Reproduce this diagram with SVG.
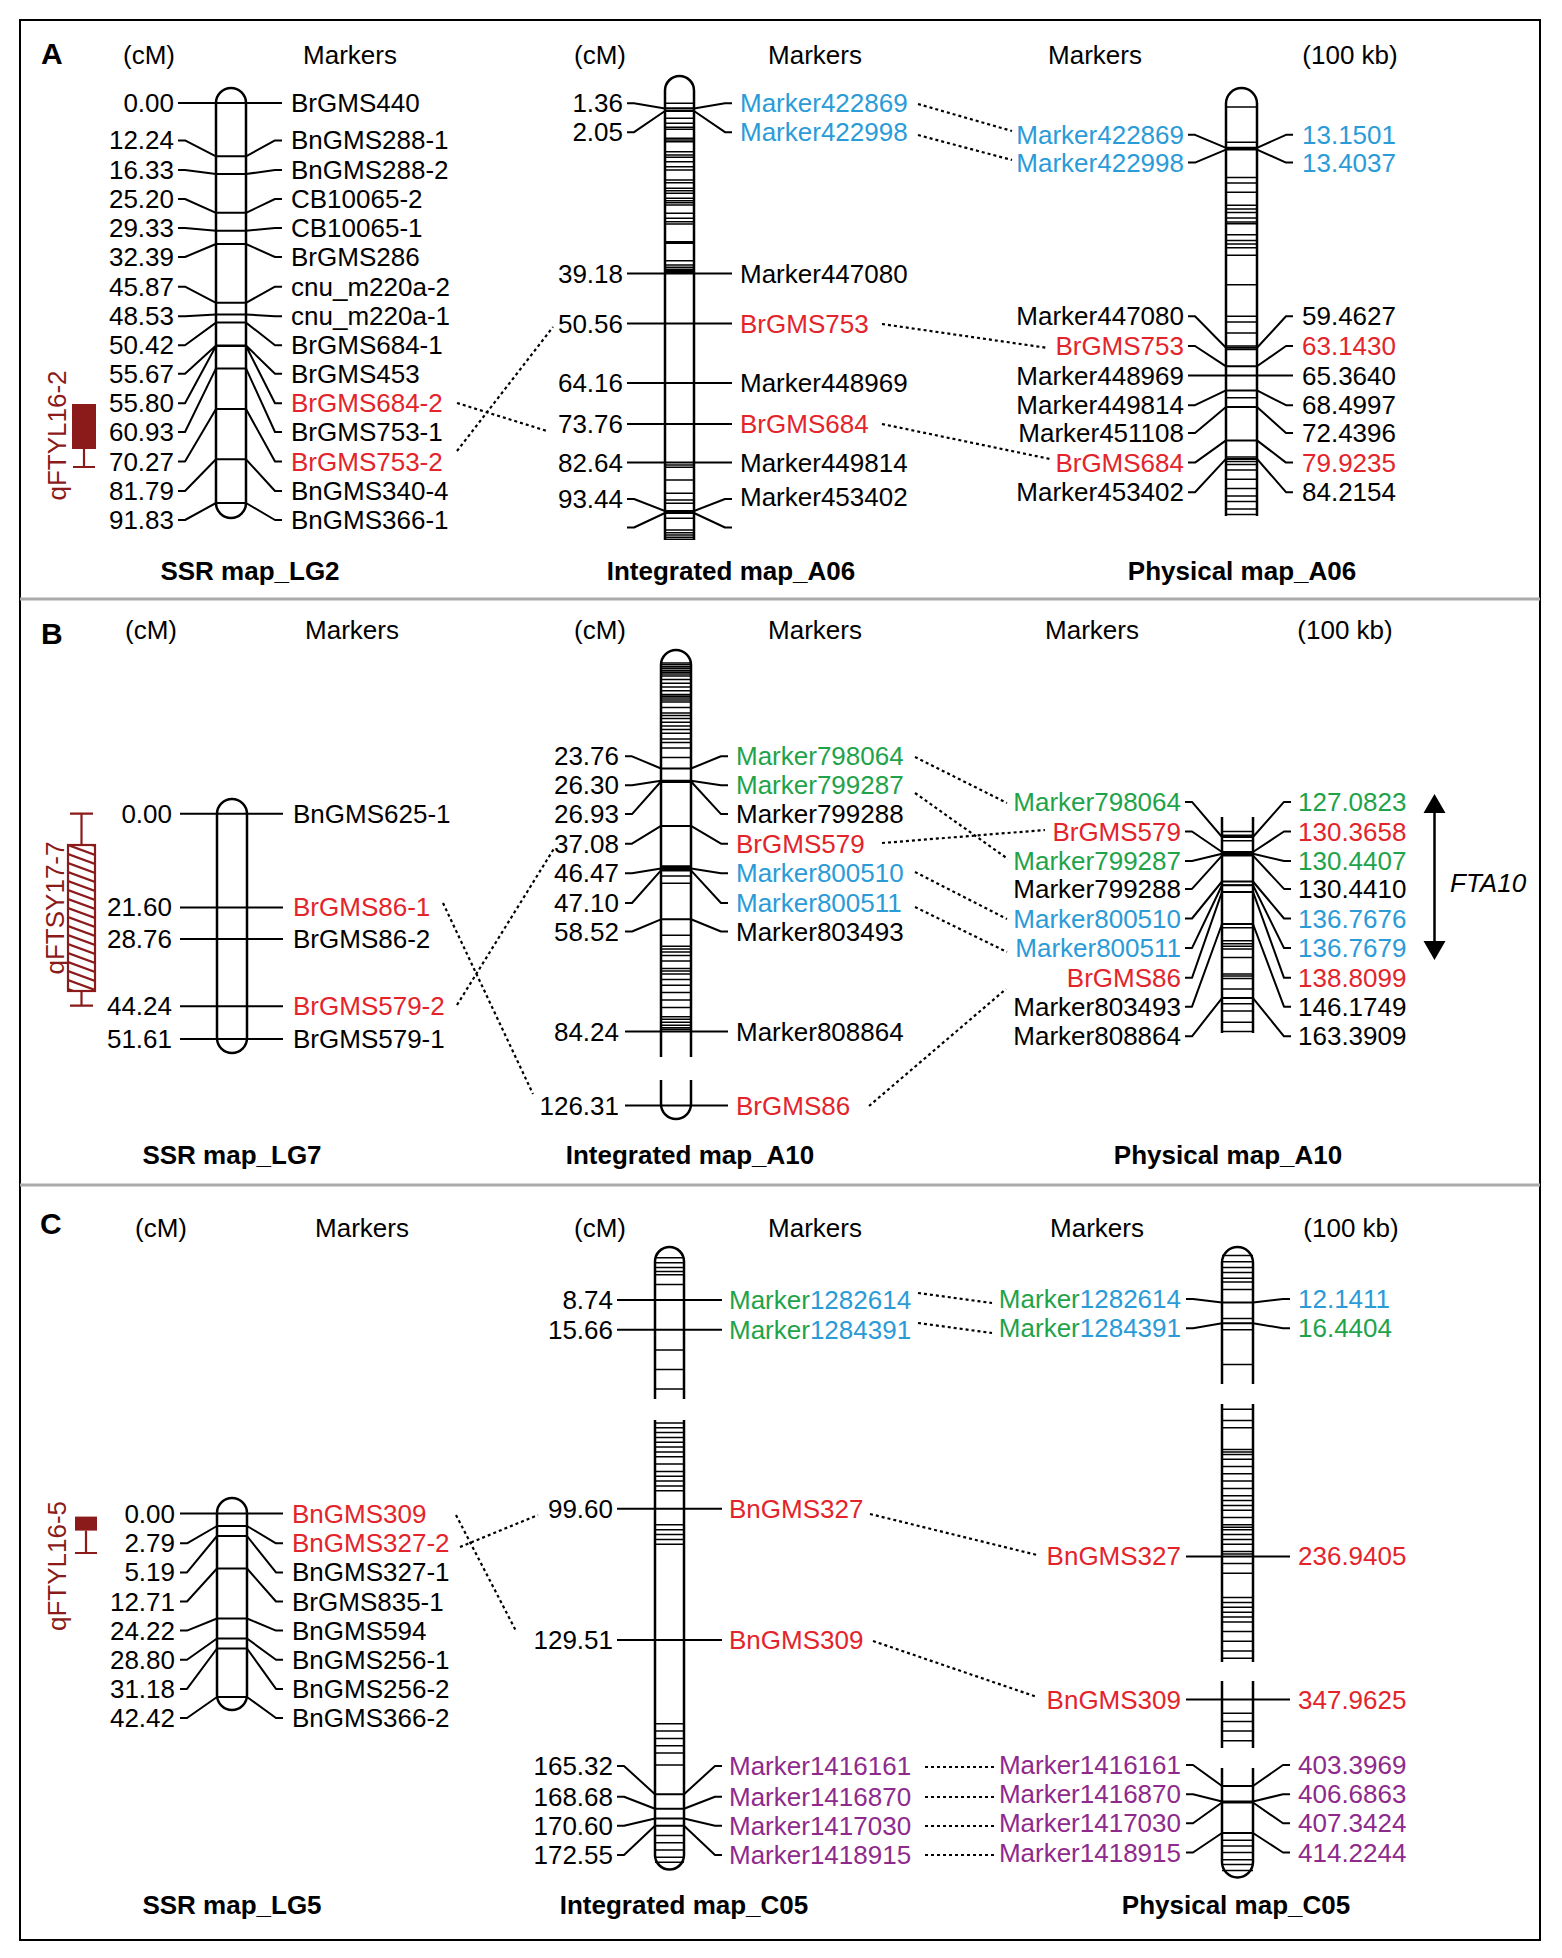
<svg xmlns="http://www.w3.org/2000/svg" width="1562" height="1958" viewBox="0 0 1562 1958">
<style>
text{font-family:"Liberation Sans",Arial,sans-serif;font-size:26px;fill:#000}
.c{dominant-baseline:central}
.e{text-anchor:end}
.m{text-anchor:middle}
.ti{font-weight:bold;text-anchor:middle}
.pl{font-weight:bold;font-size:30px}
.r{fill:#e3242b}.bl{fill:#2b9bd8}.g{fill:#1fa34a}.p{fill:#8e2a8c}.q{fill:#8b1a1a}
.chr{fill:#fff;stroke:#000;stroke-width:2.5}
.chro{fill:none;stroke:#000;stroke-width:2.5}
.band{stroke:#000;stroke-width:1.5;fill:none}
.tick{stroke:#000;stroke-width:2;fill:none;stroke-linejoin:round}
.dot{stroke:#000;stroke-width:2.2;stroke-dasharray:3 3;fill:none}
.qs{stroke:#8b1a1a;stroke-width:2.2;fill:none}
</style>
<defs>
<clipPath id="qbclip"><rect x="68" y="845" width="27" height="146"/></clipPath>
</defs>
<rect x="0" y="0" width="1562" height="1958" fill="#fff"/>
<g id="frame">
<rect x="20" y="20" width="1520" height="1920" fill="none" stroke="#000" stroke-width="2"/>
<line x1="20" y1="599" x2="1540" y2="599" stroke="#aaa" stroke-width="3"/>
<line x1="20" y1="1185" x2="1540" y2="1185" stroke="#aaa" stroke-width="3"/>
</g>

<!-- ================= PANEL A ================= -->
<g id="panelA-headers">
<text class="pl" x="41" y="64">A</text>
<text class="m" x="149" y="64">(cM)</text>
<text class="m" x="350" y="64">Markers</text>
<text class="m" x="600" y="64">(cM)</text>
<text class="m" x="815" y="64">Markers</text>
<text class="m" x="1095" y="64">Markers</text>
<text class="m" x="1350" y="64">(100 kb)</text>
<text class="ti" x="250" y="580">SSR map_LG2</text>
<text class="ti" x="731" y="580">Integrated map_A06</text>
<text class="ti" x="1242" y="580">Physical map_A06</text>
</g>

<g id="A-LG2">
<rect class="chr" x="216" y="88" width="30" height="430" rx="15"/>
<path class="tick" d="M178,103H282M178,140.4H185L216,156.3H246L275,140.4H282M178,170H185L216,174H246L275,170H282M178,199H185L216,212.8H246L275,199H282M178,228H185L216,230.8H246L275,228H282M178,257H185L216,244H246L275,257H282M178,286.7H185L216,302.8H246L275,286.7H282M178,316.3H185L216,314.4H246L275,316.3H282M178,345.2H185L216,322.6H246L275,345.2H282M178,373.7H185L216,345.5H246L275,373.7H282M178,403.3H185L216,346H246L275,403.3H282M178,432H185L216,368.4H246L275,432H282M178,461.5H185L216,409H246L275,461.5H282M178,491H185L216,459.3H246L275,491H282M178,520H185L216,503H246L275,520H282"/>
<g class="c">
<text class="c e" x="174" y="103">0.00</text>
<text class="c e" x="174" y="140.4">12.24</text>
<text class="c e" x="174" y="170">16.33</text>
<text class="c e" x="174" y="199">25.20</text>
<text class="c e" x="174" y="228">29.33</text>
<text class="c e" x="174" y="257">32.39</text>
<text class="c e" x="174" y="286.7">45.87</text>
<text class="c e" x="174" y="316.3">48.53</text>
<text class="c e" x="174" y="345.2">50.42</text>
<text class="c e" x="174" y="373.7">55.67</text>
<text class="c e" x="174" y="403.3">55.80</text>
<text class="c e" x="174" y="432">60.93</text>
<text class="c e" x="174" y="461.5">70.27</text>
<text class="c e" x="174" y="491">81.79</text>
<text class="c e" x="174" y="520">91.83</text>
<text class="c" x="291" y="103">BrGMS440</text>
<text class="c" x="291" y="140.4">BnGMS288-1</text>
<text class="c" x="291" y="170">BnGMS288-2</text>
<text class="c" x="291" y="199">CB10065-2</text>
<text class="c" x="291" y="228">CB10065-1</text>
<text class="c" x="291" y="257">BrGMS286</text>
<text class="c" x="291" y="286.7">cnu_m220a-2</text>
<text class="c" x="291" y="316.3">cnu_m220a-1</text>
<text class="c" x="291" y="345.2">BrGMS684-1</text>
<text class="c" x="291" y="373.7">BrGMS453</text>
<text class="c r" x="291" y="403.3">BrGMS684-2</text>
<text class="c" x="291" y="432">BrGMS753-1</text>
<text class="c r" x="291" y="461.5">BrGMS753-2</text>
<text class="c" x="291" y="491">BnGMS340-4</text>
<text class="c" x="291" y="520">BnGMS366-1</text>
</g>
</g>

<g id="A-QTL">
<text class="q m c" transform="translate(57,435.5) rotate(-90)">qFTYL16-2</text>
<rect x="72" y="404" width="24" height="45" fill="#8b1a1a"/>
<path class="qs" d="M84,449V467M73,467H95"/>
</g>

<g id="A-A06int">
<path class="chr" d="M665,540V90.5A14.5,14.5 0 0 1 694,90.5V540"/>
<path class="band" d="M665,103.3H694M665,108.3H694M665,110.7H694M665,118.3H694M665,123.3H694M665,127.3H694M665,129.3H694M665,138.3H694M665,140H694M665,141.7H694M665,151.7H694M665,155H694M665,157.3H694M665,161.7H694M665,166.7H694M665,170H694M665,180H694M665,182.7H694M665,188.3H694M665,190.7H694M665,193.3H694M665,198.3H694M665,200.7H694M665,202.7H694M665,205H694M665,213.3H694M665,218.3H694M665,221.7H694M665,224H694M665,241.7H694M665,243.3H694M665,260.7H694M665,265H694M665,267.3H694M665,269.3H694M665,270.7H694M665,272.3H694M665,465H694M665,467.3H694M665,480H694M665,493.3H694M665,500H694M665,503.3H694M665,518.3H694M665,530H694M665,532.7H694M665,535H694M665,537.3H694M665,539.3H694"/>
<path class="tick" d="M627,103.3H634L665,108.5H694L725,103.3H732M627,132.2H634L665,111H694L725,132.2H732M627,273.5H732M627,323.5H732M627,383H732M627,424H732M627,462.6H732M627,499H634L665,511H694L725,499H732M627,527.5H634L665,513H694L725,527.5H732"/>
<text class="c e" x="623" y="103.3">1.36</text>
<text class="c e" x="623" y="132.2">2.05</text>
<text class="c e" x="623" y="273.5">39.18</text>
<text class="c e" x="623" y="323.5">50.56</text>
<text class="c e" x="623" y="383">64.16</text>
<text class="c e" x="623" y="424">73.76</text>
<text class="c e" x="623" y="462.6">82.64</text>
<text class="c e" x="623" y="499">93.44</text>
<text class="c bl" x="740" y="103.3">Marker422869</text>
<text class="c bl" x="740" y="132.2">Marker422998</text>
<text class="c" x="740" y="273.5">Marker447080</text>
<text class="c r" x="740" y="323.5">BrGMS753</text>
<text class="c" x="740" y="383">Marker448969</text>
<text class="c r" x="740" y="424">BrGMS684</text>
<text class="c" x="740" y="462.6">Marker449814</text>
<text class="c" x="740" y="497">Marker453402</text>
</g>

<g id="A-A06phys">
<path class="chr" d="M1226,516V103.5A15.5,15.5 0 0 1 1257,103.5V516"/>
<path class="band" d="M1226,107H1257M1226,142.2H1257M1226,177.4H1257M1226,183H1257M1226,192.2H1257M1226,205.2H1257M1226,208.9H1257M1226,212.6H1257M1226,218.1H1257M1226,221.9H1257M1226,223.7H1257M1226,234.8H1257M1226,240.4H1257M1226,244H1257M1226,247.8H1257M1226,255.2H1257M1226,284.8H1257M1226,316.3H1257M1226,321.9H1257M1226,333H1257M1226,346H1257M1226,349.6H1257M1226,397.8H1257M1226,457H1257M1226,461.5H1257M1226,464.4H1257M1226,470H1257M1226,479.3H1257M1226,488.5H1257M1226,495.9H1257M1226,501.5H1257M1226,508.9H1257M1226,514.4H1257"/>
<path class="tick" d="M1188,134.8H1195L1226,147.8H1257L1286,134.8H1293M1188,162.6H1195L1226,149.6H1257L1286,162.6H1293M1188,316.3H1195L1226,347.8H1257L1286,316.3H1293M1188,346H1195L1226,366.3H1257L1286,346H1293M1188,375.6H1293M1188,405.2H1195L1226,390.4H1257L1286,405.2H1293M1188,433H1195L1226,407H1257L1286,433H1293M1188,462.6H1195L1226,440.4H1257L1286,462.6H1293M1188,492.2H1195L1226,458.9H1257L1286,492.2H1293"/>
<text class="c e bl" x="1184" y="134.8">Marker422869</text>
<text class="c e bl" x="1184" y="162.6">Marker422998</text>
<text class="c e" x="1184" y="316.3">Marker447080</text>
<text class="c e r" x="1184" y="346">BrGMS753</text>
<text class="c e" x="1184" y="375.6">Marker448969</text>
<text class="c e" x="1184" y="405.2">Marker449814</text>
<text class="c e" x="1184" y="433">Marker451108</text>
<text class="c e r" x="1184" y="462.6">BrGMS684</text>
<text class="c e" x="1184" y="492.2">Marker453402</text>
<text class="c bl" x="1302" y="134.8">13.1501</text>
<text class="c bl" x="1302" y="162.6">13.4037</text>
<text class="c" x="1302" y="316.3">59.4627</text>
<text class="c r" x="1302" y="346">63.1430</text>
<text class="c" x="1302" y="375.6">65.3640</text>
<text class="c" x="1302" y="405.2">68.4997</text>
<text class="c" x="1302" y="433">72.4396</text>
<text class="c r" x="1302" y="462.6">79.9235</text>
<text class="c" x="1302" y="492.2">84.2154</text>
</g>

<!-- ================= PANEL B ================= -->
<g id="panelB-headers">
<text class="pl" x="41" y="644">B</text>
<text class="m" x="151" y="639">(cM)</text>
<text class="m" x="352" y="639">Markers</text>
<text class="m" x="600" y="639">(cM)</text>
<text class="m" x="815" y="639">Markers</text>
<text class="m" x="1092" y="639">Markers</text>
<text class="m" x="1345" y="639">(100 kb)</text>
<text class="ti" x="232" y="1164">SSR map_LG7</text>
<text class="ti" x="690" y="1164">Integrated map_A10</text>
<text class="ti" x="1228" y="1164">Physical map_A10</text>
</g>

<g id="B-LG7">
<rect class="chr" x="217" y="799" width="30" height="254" rx="15"/>
<path class="tick" d="M180,813.7H283M180,907.4H283M180,939H283M180,1006.3H283M180,1039H283"/>
<text class="c e" x="172" y="813.7">0.00</text>
<text class="c e" x="172" y="907.4">21.60</text>
<text class="c e" x="172" y="939">28.76</text>
<text class="c e" x="172" y="1006.3">44.24</text>
<text class="c e" x="172" y="1039">51.61</text>
<text class="c" x="293" y="813.7">BnGMS625-1</text>
<text class="c r" x="293" y="907.4">BrGMS86-1</text>
<text class="c" x="293" y="939">BrGMS86-2</text>
<text class="c r" x="293" y="1006.3">BrGMS579-2</text>
<text class="c" x="293" y="1039">BrGMS579-1</text>
</g>

<g id="B-QTL">
<text class="q m c" transform="translate(55,908) rotate(-90)">qFTSY17-7</text>
<rect x="68" y="845" width="27" height="146" fill="#fff" stroke="#8b1a1a" stroke-width="2.2"/>
<path class="qs" clip-path="url(#qbclip)" stroke-width="1.8" d="M68,827L95,837M68,836L95,846M68,845L95,855M68,854L95,864M68,863L95,873M68,872L95,882M68,881L95,891M68,890L95,900M68,899L95,909M68,908L95,918M68,917L95,927M68,926L95,936M68,935L95,945M68,944L95,954M68,953L95,963M68,962L95,972M68,971L95,981M68,980L95,990M68,989L95,999"/>
<path class="qs" d="M81.5,845V813.7M70,813.7H93M81.5,991V1005.6M70,1005.6H93"/>
</g>

<g id="B-A10int">
<path class="chr" d="M661,1057V665A15,15 0 0 1 691,665V1057"/>
<path class="chr" d="M661,1080V1104A15,15 0 0 0 691,1104V1080"/>
<path class="band" d="M661,663H691M661,664.8H691M661,666.7H691M661,668.5H691M661,670.4H691M661,672.2H691M661,674H691M661,675.9H691M661,679.6H691M661,683.3H691M661,687H691M661,690.7H691M661,694.4H691M661,696.3H691M661,698.1H691M661,700H691M661,701.9H691M661,707.4H691M661,713H691M661,715.6H691M661,718.5H691M661,722.2H691M661,725.9H691M661,729.6H691M661,733.3H691M661,738.9H691M661,742.6H691M661,748.1H691M661,757.4H691M661,782.2H691M661,865.9H691M661,867.4H691M661,875.9H691M661,883.3H691M661,935.2H691M661,946.3H691M661,948.9H691M661,951.9H691M661,955.6H691M661,961.1H691M661,968.5H691M661,971.1H691M661,974.1H691M661,979.6H691M661,985.2H691M661,992.6H691M661,1000H691M661,1007.4H691M661,1016.7H691M661,1019.3H691M661,1022.2H691M661,1025.2H691M661,1027.8H691M661,1029.6H691"/>
<path class="tick" d="M625,756.3H632L661,768.5H691L721,756.3H728M625,785.2H632L661,780.7H691L721,785.2H728M625,814.1H632L661,781.5H691L721,814.1H728M625,843.7H632L661,825.9H691L721,843.7H728M625,873.3H632L661,868.5H691L721,873.3H728M625,903H632L661,870.4H691L721,903H728M625,931.5H632L661,919.3H691L721,931.5H728M625,1031.5H728M625,1105.6H728"/>
<text class="c e" x="619" y="756.3">23.76</text>
<text class="c e" x="619" y="785.2">26.30</text>
<text class="c e" x="619" y="814.1">26.93</text>
<text class="c e" x="619" y="843.7">37.08</text>
<text class="c e" x="619" y="873.3">46.47</text>
<text class="c e" x="619" y="903">47.10</text>
<text class="c e" x="619" y="931.5">58.52</text>
<text class="c e" x="619" y="1031.5">84.24</text>
<text class="c e" x="619" y="1105.6">126.31</text>
<text class="c g" x="736" y="756.3">Marker798064</text>
<text class="c g" x="736" y="785.2">Marker799287</text>
<text class="c" x="736" y="814.1">Marker799288</text>
<text class="c r" x="736" y="843.7">BrGMS579</text>
<text class="c bl" x="736" y="873.3">Marker800510</text>
<text class="c bl" x="736" y="903">Marker800511</text>
<text class="c" x="736" y="931.5">Marker803493</text>
<text class="c" x="736" y="1031.5">Marker808864</text>
<text class="c r" x="736" y="1105.6">BrGMS86</text>
</g>

<g id="B-A10phys">
<rect x="1222" y="817" width="31" height="216" fill="#fff"/>
<path class="chro" d="M1222,817V1033M1253,817V1033"/>
<path class="band" d="M1222,831.5H1253M1222,835.2H1253M1222,840.7H1253M1222,852H1253M1222,885.2H1253M1222,924H1253M1222,927.8H1253M1222,940.7H1253M1222,943.7H1253M1222,946.3H1253M1222,948.9H1253M1222,957.4H1253M1222,974H1253M1222,975.9H1253M1222,978.5H1253M1222,988.9H1253M1222,1003.7H1253M1222,1011.1H1253M1222,1022.2H1253M1222,1031.5H1253"/>
<path class="tick" d="M1185,801.9H1192L1222,837H1253L1284,801.9H1291M1185,831.5H1192L1222,852H1253L1284,831.5H1291M1185,861H1192L1222,853.7H1253L1284,861H1291M1185,888.9H1192L1222,855.6H1253L1284,888.9H1291M1185,918.5H1192L1222,881.5H1253L1284,918.5H1291M1185,948.1H1192L1222,885.2H1253L1284,948.1H1291M1185,977.8H1192L1222,891.9H1253L1284,977.8H1291M1185,1006.7H1192L1222,924H1253L1284,1006.7H1291M1185,1036.3H1192L1222,998.1H1253L1284,1036.3H1291"/>
<text class="c e g" x="1181" y="801.9">Marker798064</text>
<text class="c e r" x="1181" y="831.5">BrGMS579</text>
<text class="c e g" x="1181" y="861">Marker799287</text>
<text class="c e" x="1181" y="888.9">Marker799288</text>
<text class="c e bl" x="1181" y="918.5">Marker800510</text>
<text class="c e bl" x="1181" y="948.1">Marker800511</text>
<text class="c e r" x="1181" y="977.8">BrGMS86</text>
<text class="c e" x="1181" y="1006.7">Marker803493</text>
<text class="c e" x="1181" y="1036.3">Marker808864</text>
<text class="c g" x="1298" y="801.9">127.0823</text>
<text class="c r" x="1298" y="831.5">130.3658</text>
<text class="c g" x="1298" y="861">130.4407</text>
<text class="c" x="1298" y="888.9">130.4410</text>
<text class="c bl" x="1298" y="918.5">136.7676</text>
<text class="c bl" x="1298" y="948.1">136.7679</text>
<text class="c r" x="1298" y="977.8">138.8099</text>
<text class="c" x="1298" y="1006.7">146.1749</text>
<text class="c" x="1298" y="1036.3">163.3909</text>
</g>

<g id="B-FTA10">
<line x1="1434.5" y1="810" x2="1434.5" y2="944" stroke="#000" stroke-width="2.5"/>
<path d="M1434.5,794L1423.5,813L1445.5,813Z M1434.5,960L1423.5,941L1445.5,941Z" fill="#000"/>
<text class="c" x="1450" y="883" font-style="italic">FTA10</text>
</g>

<!-- ================= PANEL C ================= -->
<g id="panelC-headers">
<text class="pl" x="40" y="1234">C</text>
<text class="m" x="161" y="1237">(cM)</text>
<text class="m" x="362" y="1237">Markers</text>
<text class="m" x="600" y="1237">(cM)</text>
<text class="m" x="815" y="1237">Markers</text>
<text class="m" x="1097" y="1237">Markers</text>
<text class="m" x="1351" y="1237">(100 kb)</text>
<text class="ti" x="232" y="1914">SSR map_LG5</text>
<text class="ti" x="684" y="1914">Integrated map_C05</text>
<text class="ti" x="1236" y="1914">Physical map_C05</text>
</g>

<g id="C-LG5">
<rect class="chr" x="217" y="1498" width="30" height="212" rx="15"/>
<path class="tick" d="M180,1513.6H283M180,1543.3H187L217,1526H247L276,1543.3H283M180,1572.4H187L217,1536H247L276,1572.4H283M180,1601.5H187L217,1568.5H247L276,1601.5H283M180,1630.6H187L217,1618.5H247L276,1630.6H283M180,1659.8H187L217,1638.5H247L276,1659.8H283M180,1688.9H187L217,1648.5H247L276,1688.9H283M180,1718H187L217,1697H247L276,1718H283"/>
<text class="c e" x="175" y="1513.6">0.00</text>
<text class="c e" x="175" y="1543.3">2.79</text>
<text class="c e" x="175" y="1572.4">5.19</text>
<text class="c e" x="175" y="1601.5">12.71</text>
<text class="c e" x="175" y="1630.6">24.22</text>
<text class="c e" x="175" y="1659.8">28.80</text>
<text class="c e" x="175" y="1688.9">31.18</text>
<text class="c e" x="175" y="1718">42.42</text>
<text class="c r" x="292" y="1513.6">BnGMS309</text>
<text class="c r" x="292" y="1543.3">BnGMS327-2</text>
<text class="c" x="292" y="1572.4">BnGMS327-1</text>
<text class="c" x="292" y="1601.5">BrGMS835-1</text>
<text class="c" x="292" y="1630.6">BnGMS594</text>
<text class="c" x="292" y="1659.8">BnGMS256-1</text>
<text class="c" x="292" y="1688.9">BnGMS256-2</text>
<text class="c" x="292" y="1718">BnGMS366-2</text>
</g>

<g id="C-QTL">
<text class="q m c" transform="translate(57,1566) rotate(-90)">qFTYL16-5</text>
<rect x="75" y="1516.6" width="22" height="14" fill="#8b1a1a"/>
<path class="qs" d="M86,1530.6V1553M75,1553H97"/>
</g>

<g id="C-C05int">
<path class="chr" d="M655,1399V1261.5A14.5,14.5 0 0 1 684,1261.5V1399"/>
<path class="chr" d="M655,1420V1855A14.5,14.5 0 0 0 684,1855V1420"/>
<path class="band" d="M655,1257.8H684M655,1262.7H684M655,1267.5H684M655,1271.4H684M655,1274.8H684M655,1284.5H684M655,1350H684M655,1369.5H684M655,1388.9H684M655,1422.9H684M655,1427.7H684M655,1432.6H684M655,1437.4H684M655,1442.3H684M655,1447.1H684M655,1452H684M655,1456.8H684M655,1464.1H684M655,1471.4H684M655,1476.3H684M655,1481.1H684M655,1486H684M655,1490.8H684M655,1524.8H684M655,1529.7H684M655,1534.5H684M655,1539.4H684M655,1544.2H684M655,1723.8H684M655,1731.1H684M655,1738.4H684M655,1745.7H684M655,1753H684M655,1765.1H684M655,1835.5H684M655,1842.8H684M655,1850H684M655,1857.3H684M655,1862.2H684"/>
<path class="tick" d="M617,1300H722M617,1329.7H722M617,1508.8H722M617,1639.9H722M617,1766H624L655,1794.2H684L715,1766H722M617,1796.7H624L655,1808.8H684L715,1796.7H722M617,1825.8H624L655,1818.5H684L715,1825.8H722M617,1854.9H624L655,1825.8H684L715,1854.9H722"/>
<text class="c e" x="613" y="1300">8.74</text>
<text class="c e" x="613" y="1329.7">15.66</text>
<text class="c e" x="613" y="1508.8">99.60</text>
<text class="c e" x="613" y="1639.9">129.51</text>
<text class="c e" x="613" y="1766">165.32</text>
<text class="c e" x="613" y="1796.7">168.68</text>
<text class="c e" x="613" y="1825.8">170.60</text>
<text class="c e" x="613" y="1854.9">172.55</text>
<text class="c" x="729" y="1300"><tspan class="g">Marker</tspan><tspan class="bl">1282614</tspan></text>
<text class="c" x="729" y="1329.7"><tspan class="g">Marker</tspan><tspan class="bl">1284391</tspan></text>
<text class="c r" x="729" y="1508.8">BnGMS327</text>
<text class="c r" x="729" y="1639.9">BnGMS309</text>
<text class="c p" x="729" y="1766">Marker1416161</text>
<text class="c p" x="729" y="1796.7">Marker1416870</text>
<text class="c p" x="729" y="1825.8">Marker1417030</text>
<text class="c p" x="729" y="1854.9">Marker1418915</text>
</g>

<g id="C-C05phys">
<path class="chr" d="M1222,1384V1262.5A15.5,15.5 0 0 1 1253,1262.5V1384"/>
<rect x="1222" y="1404" width="31" height="258" fill="#fff"/>
<path class="chro" d="M1222,1404V1662M1253,1404V1662"/>
<rect x="1222" y="1681" width="31" height="67" fill="#fff"/>
<path class="chro" d="M1222,1681V1748M1253,1681V1748"/>
<path class="chr" d="M1222,1768V1862A15.5,15.5 0 0 0 1253,1862V1768"/>
<path class="band" d="M1222,1255.4H1253M1222,1261.7H1253M1222,1267.5H1253M1222,1272.4H1253M1222,1278.2H1253M1222,1282.1H1253M1222,1289.4H1253M1222,1318.5H1253M1222,1329.7H1253M1222,1364.6H1253M1222,1409.3H1253M1222,1420.4H1253M1222,1427.7H1253M1222,1449.6H1253M1222,1452H1253M1222,1454.4H1253M1222,1459.3H1253M1222,1466.6H1253M1222,1473.8H1253M1222,1481.1H1253M1222,1488.4H1253M1222,1495.7H1253M1222,1500.5H1253M1222,1505.4H1253M1222,1510.2H1253M1222,1517.5H1253M1222,1524.8H1253M1222,1527.2H1253M1222,1529.7H1253M1222,1534.5H1253M1222,1539.4H1253M1222,1544.2H1253M1222,1551.5H1253M1222,1553.9H1253M1222,1563.6H1253M1222,1573.3H1253M1222,1597.6H1253M1222,1602.5H1253M1222,1607.3H1253M1222,1612.2H1253M1222,1617H1253M1222,1621.9H1253M1222,1631.6H1253M1222,1641.3H1253M1222,1651H1253M1222,1658.3H1253M1222,1713.2H1253M1222,1721.4H1253M1222,1731.1H1253M1222,1740.8H1253M1222,1840.3H1253M1222,1846.1H1253M1222,1852.5H1253M1222,1859.7H1253M1222,1864.6H1253M1222,1870.4H1253"/>
<path class="tick" d="M1186,1299H1193L1222,1302.5H1253L1283,1299H1290M1186,1328.2H1193L1222,1323.3H1253L1283,1328.2H1290M1186,1556.4H1290M1186,1699.6H1290M1186,1765H1193L1222,1786H1253L1283,1765H1290M1186,1794.2H1193L1222,1801.5H1253L1283,1794.2H1290M1186,1823.3H1193L1222,1802.5H1253L1283,1823.3H1290M1186,1852.5H1193L1222,1833H1253L1283,1852.5H1290"/>
<text class="c e" x="1181" y="1299"><tspan class="g">Marker</tspan><tspan class="bl">1282614</tspan></text>
<text class="c e" x="1181" y="1328.2"><tspan class="g">Marker</tspan><tspan class="bl">1284391</tspan></text>
<text class="c e r" x="1181" y="1556.4">BnGMS327</text>
<text class="c e r" x="1181" y="1699.6">BnGMS309</text>
<text class="c e p" x="1181" y="1765">Marker1416161</text>
<text class="c e p" x="1181" y="1794.2">Marker1416870</text>
<text class="c e p" x="1181" y="1823.3">Marker1417030</text>
<text class="c e p" x="1181" y="1852.5">Marker1418915</text>
<text class="c bl" x="1298" y="1299">12.1411</text>
<text class="c g" x="1298" y="1328.2">16.4404</text>
<text class="c r" x="1298" y="1556.4">236.9405</text>
<text class="c r" x="1298" y="1699.6">347.9625</text>
<text class="c p" x="1298" y="1765">403.3969</text>
<text class="c p" x="1298" y="1794.2">406.6863</text>
<text class="c p" x="1298" y="1823.3">407.3424</text>
<text class="c p" x="1298" y="1852.5">414.2244</text>
</g>

<g id="connectors">
<path class="dot" d="M457,403L547,431M457,451L553,327M918,104L1012,131M918,135L1012,160M882,324L1048,348M882,424L1050,459"/>
<path class="dot" d="M443,903L533,1094M457,1005L555,847M915,757L1007,803M915,793L1008,859M882,843L1045,830M915,872L1007,919M915,907L1007,952M869,1106L1006,989"/>
<path class="dot" d="M456,1515L516,1631M460,1547L538,1515M918,1293L992,1303M918,1323L992,1333M870,1514L1037,1555M873,1641L1037,1697M925,1767H995M925,1797H995M925,1826H995M925,1855H995"/>
</g>
</svg>
